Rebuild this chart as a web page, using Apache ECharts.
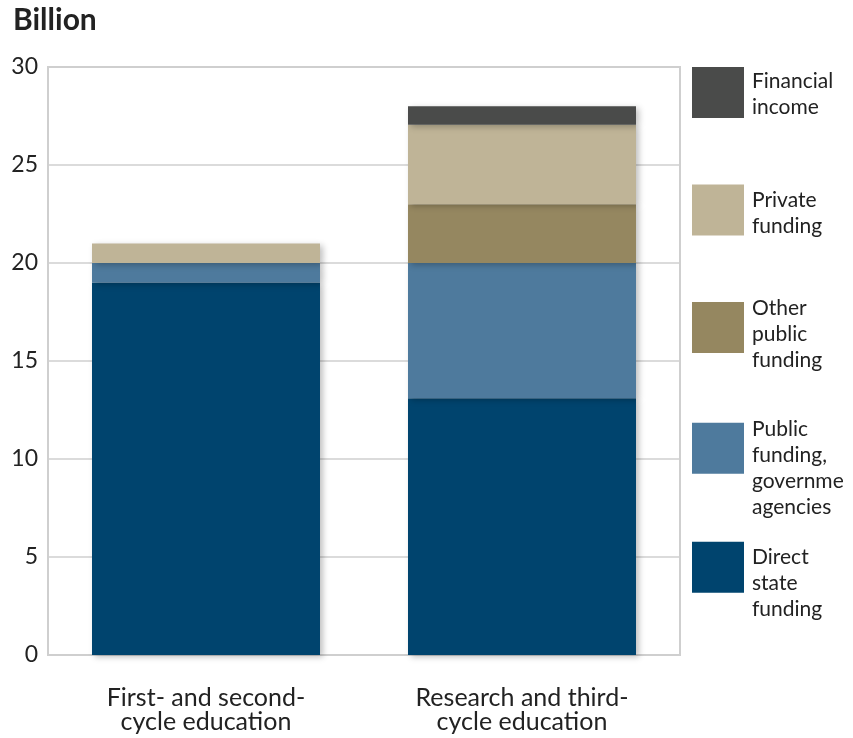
<!DOCTYPE html>
<html>
<head>
<meta charset="utf-8">
<script src="https://cdn.jsdelivr.net/npm/echarts@6/dist/echarts.min.js"></script>
<style>html,body{margin:0;padding:0;background:#fff}#c{width:853px;height:738px}</style>
</head>
<body>
<div id="c"></div>
<script>
var categories = ["First- and second-\ncycle education", "Research and third-\ncycle education"];
var directState = [19, 13.1];
var publicAgencies = [1, 6.9];
var otherPublic = [0, 3];
var privateFunding = [1, 4.05];
var financialIncome = [0, 0.95];
var yTicks = [0, 5, 10, 15, 20, 25, 30];

var seriesNames = ["Direct state funding", "Public funding, government agencies", "Other public funding", "Private funding", "Financial income"];
var legendLines = {
  "Financial income": ["Financial", "income"],
  "Private funding": ["Private", "funding"],
  "Other public funding": ["Other", "public", "funding"],
  "Public funding, government agencies": ["Public", "funding,", "governme", "agencies"],
  "Direct state funding": ["Direct", "state", "funding"]
};
var colors = ["#00446e", "#4e7a9d", "#958760", "#bfb497", "#4a4b4a"];
var values = [directState, publicAgencies, otherPublic, privateFunding, financialIncome];

var font = "Lato, 'Open Sans', sans-serif";
var chart = echarts.init(document.getElementById('c'), null, {renderer: 'canvas'});

var series = seriesNames.map(function (n, i) {
  return {
    name: n, type: 'bar', stack: 'total', data: values[i], barWidth: 228,
    itemStyle: {color: colors[i], shadowBlur: 6, shadowOffsetX: 3, shadowOffsetY: 2, shadowColor: 'rgba(0,0,0,0.25)'},
    emphasis: {disabled: true}
  };
});

var legendOrder = ["Financial income", "Private funding", "Other public funding", "Public funding, government agencies", "Direct state funding"];
var legendTops = [66, 183.5, 288, 395.7, 527.8];
var legendSpacer = [4, 6, 13, 40, 31];
var legends = legendOrder.map(function (n, i) {
  return {
    data: [n], left: 692, top: legendTops[i], orient: 'vertical', padding: 0,
    itemWidth: 52, itemHeight: 51, icon: 'rect', selectedMode: false,
    formatter: function (name) {
      return '{s| }\n' + legendLines[name].map(function (l) { return '{t|' + l + '}'; }).join('\n');
    },
    textStyle: {
      rich: {
        s: {fontSize: 1, lineHeight: legendSpacer[i]},
        t: {fontFamily: font, fontSize: 21, lineHeight: 26, color: '#222', padding: [0, 0, 0, 3]}
      }
    }
  };
});

chart.setOption({
  animation: false,
  title: {text: 'Billion', left: 13, top: 5, padding: 0, textStyle: {fontFamily: font, fontSize: 30, lineHeight: 30, fontWeight: 'bold', color: '#222'}},
  legend: legends,
  grid: {left: 48, right: 173, top: 67, bottom: 83, show: true, borderColor: '#cfcfcf', borderWidth: 2, containLabel: false},
  xAxis: {
    type: 'category', data: categories,
    axisLine: {show: false}, axisTick: {show: false},
    axisLabel: {fontFamily: font, fontSize: 25, color: '#222', lineHeight: 24, margin: 31}
  },
  yAxis: {
    type: 'value', min: yTicks[0], max: yTicks[yTicks.length - 1], interval: 5,
    axisLine: {show: false}, axisTick: {show: false},
    splitLine: {lineStyle: {color: '#cfcfcf', width: 1.5}},
    axisLabel: {fontFamily: font, fontSize: 23, color: '#222', margin: 10}
  },
  series: series
});
</script>
</body>
</html>
